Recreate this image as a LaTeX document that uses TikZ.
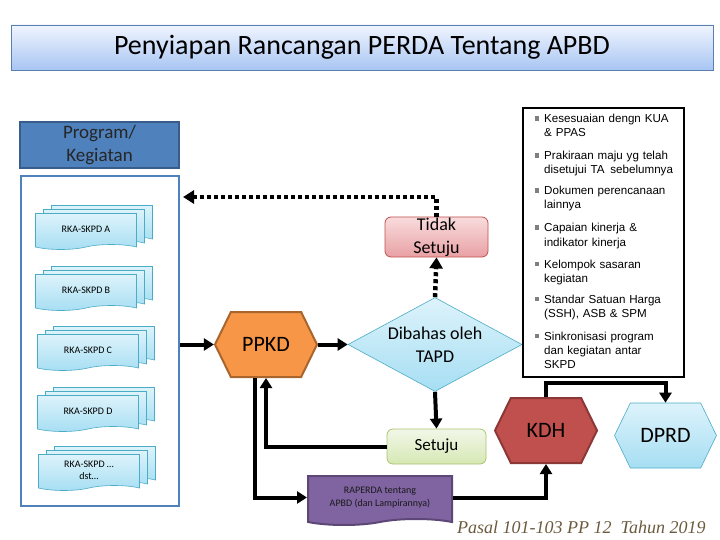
\documentclass[tikz,border=0pt]{standalone}
\usepackage{xcolor}
\usepackage{tikz}
\usepackage{fontspec}
\setmainfont{Carlito}
\newfontfamily\bulletfont{Liberation Sans}
\newfontfamily\notefont{Liberation Serif}
\definecolor{titlelight}{HTML}{F0F5FE}
\definecolor{titledark}{HTML}{A8C5F3}
\definecolor{titleline}{HTML}{5B7FAE}
\definecolor{progblue}{HTML}{4F81BD}
\definecolor{progline}{HTML}{385D8A}
\definecolor{cyanlight}{HTML}{DDF3FB}
\definecolor{cyandark}{HTML}{A6DEF3}
\definecolor{cyanline}{HTML}{4BACC6}
\definecolor{ppkdorange}{HTML}{F79646}
\definecolor{ppkdline}{HTML}{A8652E}
\definecolor{kdhred}{HTML}{C0504D}
\definecolor{kdhline}{HTML}{8C3836}
\definecolor{pinklight}{HTML}{F9DCDD}
\definecolor{pinkdark}{HTML}{E8A0A4}
\definecolor{greenlight}{HTML}{F2F7E8}
\definecolor{greendark}{HTML}{D6E8B4}
\definecolor{greenline}{HTML}{A9C46E}
\definecolor{raperdapurple}{HTML}{8064A2}
\definecolor{raperdaline}{HTML}{5C4776}
\definecolor{notebrown}{HTML}{6B5A3E}
\usetikzlibrary{shapes.geometric, shapes.symbols, arrows.meta, positioning}

\begin{document}
\begin{tikzpicture}[x=1pt, y=-1pt,
    arr/.style={line width=4pt, -{Triangle[length=10pt,width=12pt]}},
    dotarr/.style={line width=4.5pt, dash pattern=on 4pt off 3pt, -{Triangle[length=11pt,width=13pt]}},
    hexa/.style={signal, signal to=east and west, signal pointer angle=128,
        minimum width=102pt, minimum height=65pt, inner sep=0pt, font=\fontsize{22}{26}\selectfont},
    sheet/.style={tape, tape bend top=none, tape bend height=5pt, draw=cyanline, line width=0.6pt,
        top color=cyanlight, bottom color=cyandark, minimum width=101pt, minimum height=36pt,
        inner sep=0pt, align=center, font=\fontsize{10}{12}\selectfont},
    roundbox/.style={rectangle, rounded corners=6pt, line width=0.8pt, inner sep=0pt, align=center}]
    \useasboundingbox (0,0) rectangle (720,540);

    % Title
    \node[draw=titleline, line width=0.8pt, top color=titlelight, bottom color=titledark,
        minimum width=702pt, minimum height=45pt, font=\fontsize{28}{32}\selectfont] (title) at (362,47.5)
        {Penyiapan Rancangan PERDA Tentang APBD};

    % Program / Kegiatan
    \node[draw=progline, line width=2pt, fill=progblue, minimum width=159pt, minimum height=46pt,
        align=center, text=black!85, font=\fontsize{19}{23}\selectfont] (prog) at (99.5,145) {Program/\\Kegiatan};
    \node[draw=progblue, line width=2.5pt, fill=white, minimum width=158pt, minimum height=330pt] (cont) at (100,341) {};

    % RKA-SKPD stacks
    \foreach \nm/\px/\py/\txt in {rkaa/86/229/{RKA-SKPD A}, rkab/86/290/{RKA-SKPD B},
        rkac/88/350/{RKA-SKPD C}, rkad/88/411/{RKA-SKPD D}, rkae/89/470/{RKA-SKPD …\\dst…}} {
        \node[sheet] (\nm3) at (\px+16,\py-8) {};
        \node[sheet] (\nm2) at (\px+8,\py-4) {};
        \node[sheet] (\nm) at (\px,\py) {\txt};
    }

    % Flow
    \node[hexa, draw=ppkdline, line width=2pt, fill=ppkdorange] (ppkd) at (266,344.5) {PPKD};
    \node[diamond, aspect=1.85, draw=cyanline, line width=0.6pt, top color=cyanlight, bottom color=cyandark,
        minimum width=174pt, minimum height=94pt, inner sep=0pt, align=center,
        font=\fontsize{18}{23}\selectfont] (tapd) at (435,344.5) {Dibahas oleh\\TAPD};
    \node[roundbox, draw=kdhred, top color=pinklight, bottom color=pinkdark,
        minimum width=103pt, minimum height=40pt, font=\fontsize{18}{23}\selectfont] (tidak) at (436.5,237) {Tidak\\Setuju};
    \node[roundbox, draw=greenline, top color=greenlight, bottom color=greendark,
        minimum width=99pt, minimum height=35pt, font=\fontsize{17}{20}\selectfont] (setuju) at (436.5,446.5) {Setuju};
    \node[tape, tape bend top=none, tape bend height=6pt, draw=raperdaline, line width=2pt, fill=raperdapurple,
        minimum width=144pt, minimum height=49pt, inner sep=0pt, align=center, text=black!90,
        font=\fontsize{10}{13}\selectfont] (raperda) at (380,497.5) {RAPERDA tentang\\APBD (dan Lampirannya)};
    \node[hexa, draw=kdhline, line width=2pt, fill=kdhred] (kdh) at (546,430.5) {KDH};
    \node[hexa, draw=cyanline, line width=0.6pt, top color=cyanlight, bottom color=cyandark] (dprd) at (665.5,435.5) {DPRD};

    % Criteria list
    \node[draw, line width=2.5pt, fill=white, minimum width=161pt, minimum height=269pt] (crit) at (603.5,242.5) {};
    \foreach \i/\yb/\txt in {1/123/{Kesesuaian dengn KUA\\\& PPAS},
        2/160/{Prakiraan maju yg telah\\disetujui TA\hspace{2pt} sebelumnya},
        3/195/{Dokumen perencanaan\\lainnya},
        4/232/{Capaian kinerja \&\\indikator kinerja},
        5/268/{Kelompok sasaran\\kegiatan},
        6/303/{Standar Satuan Harga\\(SSH), ASB \& SPM},
        7/340/{Sinkronisasi program\\dan kegiatan antar\\SKPD}} {
        \fill[gray] (534.5,\yb-6.5) rectangle (539,\yb-2);
        \node[anchor=base west, inner sep=0pt, text width=138pt, align=left,
            font=\bulletfont\fontsize{11.6}{14}\selectfont] (crit\i) at (544,\yb) {\txt};
    }

    % Connectors
    \coordinate (ret) at (183,197);
    \draw[arr] (cont.east |- ppkd) -- (ppkd.west);
    \draw[arr] (ppkd.east) -- (tapd.west);
    \draw[dotarr] (tapd.north) -- (tidak.south);
    \draw[dotarr] (tidak.north) |- (ret);
    \draw[arr] (tapd.south) -- (setuju.north);
    \draw[arr] (setuju.west) -| (ppkd.south);
    \draw[arr] ([xshift=-11pt]ppkd.south) |- (raperda.west);
    \draw[arr] (raperda.east) -| (kdh.south);
    \draw[arr] (kdh.north) -- ++(0,-14) -| (dprd.north);

    % Source note
    \node[anchor=base west, inner sep=0pt, text=notebrown, font=\notefont\itshape\fontsize{18}{20}\selectfont]
        (note) at (457,533) {Pasal 101-103 PP 12\ \ Tahun 2019};
\end{tikzpicture}
\end{document}
